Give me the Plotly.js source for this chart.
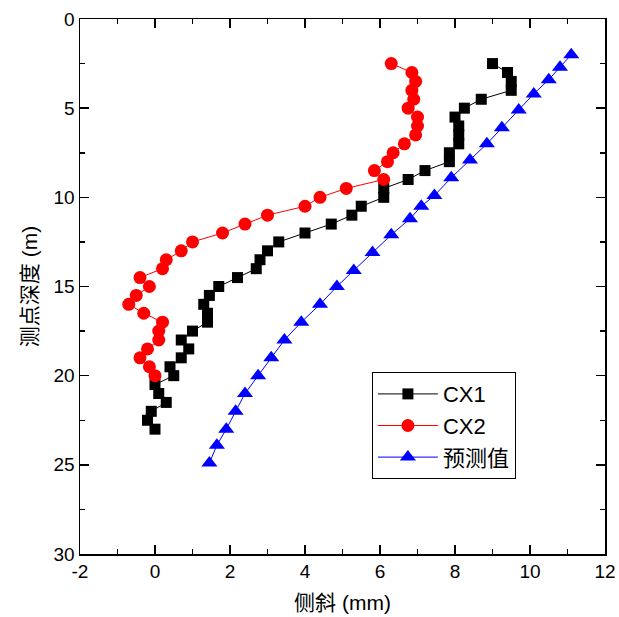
<!DOCTYPE html>
<html>
<head>
<meta charset="utf-8">
<script src="https://cdn.plot.ly/plotly-3.0.1.min.js"></script>
<style>html,body{margin:0;padding:0;background:#fff;}#chart{width:619px;height:617px;}</style>
</head>
<body>
<div id="chart"></div>
<script>
// CX1 measured
const cx1Depth = [2.5,3.0,3.5,4.0,4.5,5.0,5.5,6.0,6.5,7.0,7.5,8.0,8.5,9.0,9.5,10.0,10.5,11.0,11.5,12.0,12.5,13.0,13.5,14.0,14.5,15.0,15.5,16.0,16.5,17.0,17.5,18.0,18.5,19.0,19.5,20.0,20.5,21.0,21.5,22.0,22.5,23.0];
const cx1Disp  = [9.0,9.4,9.5,9.5,8.7,8.25,8.0,8.1,8.1,8.1,7.85,7.85,7.2,6.75,6.1,6.1,5.5,5.25,4.7,4.0,3.3,3.0,2.8,2.7,2.2,1.7,1.45,1.3,1.4,1.4,1.0,0.7,0.9,0.7,0.4,0.5,0.0,0.1,0.3,-0.1,-0.2,0.0];
// CX2 measured
const cx2Depth = [2.5,3.0,3.5,4.0,4.5,5.0,5.5,6.0,6.5,7.0,7.5,8.0,8.5,9.0,9.5,10.0,10.5,11.0,11.5,12.0,12.5,13.0,13.5,14.0,14.5,15.0,15.5,16.0,16.5,17.0,17.5,18.0,18.5,19.0,19.5,20.0];
const cx2Disp  = [6.3,6.85,6.95,6.85,6.9,6.75,7.0,7.0,6.95,6.65,6.35,6.2,5.85,6.1,5.1,4.4,4.0,3.0,2.4,1.8,1.0,0.7,0.3,0.2,-0.4,-0.15,-0.5,-0.7,-0.3,0.2,0.1,0.1,-0.2,-0.4,-0.15,0.0];
// Predicted
const predDepth = [2.0,2.7,3.4,4.2,5.1,6.1,7.0,7.9,8.9,9.9,10.5,11.2,12.1,13.1,14.1,15.0,16.0,17.0,18.0,19.0,20.0,21.0,22.0,23.0,23.9,24.9];
const predDisp  = [11.1,10.8,10.5,10.1,9.7,9.25,8.85,8.4,7.9,7.45,7.1,6.8,6.3,5.8,5.3,4.85,4.4,3.9,3.45,3.1,2.75,2.4,2.15,1.9,1.65,1.45];

const xTicks = [-2,0,2,4,6,8,10,12];
const yTicks = [0,5,10,15,20,25,30];
const names = ['CX1','CX2','预测值'];

const traces = [
  {x: cx1Disp, y: cx1Depth, name: names[0], mode:'lines+markers', type:'scatter',
   line:{color:'#000000', width:1}, marker:{symbol:'square', size:11, color:'#000000'}},
  {x: cx2Disp, y: cx2Depth, name: names[1], mode:'lines+markers', type:'scatter',
   line:{color:'#ff0000', width:1}, marker:{symbol:'circle', size:13, color:'#ff0000'}},
  {x: predDisp, y: predDepth, name: names[2], mode:'lines+markers', type:'scatter',
   line:{color:'#0000ff', width:1}, marker:{symbol:'triangle-up', size:14, color:'#0000ff'}}
];

const fontFam = '"Liberation Sans", Arial, "Noto Sans CJK SC", sans-serif';
const layout = {
  width:619, height:617,
  margin:{l:80, r:14, t:19, b:63},
  paper_bgcolor:'#ffffff', plot_bgcolor:'#ffffff',
  font:{family:fontFam, size:18, color:'#000'},
  showlegend:true,
  legend:{x:0.556, y:0.34, xanchor:'left', yanchor:'top', bordercolor:'#000', borderwidth:1,
          bgcolor:'#fff', font:{family:fontFam, size:22, color:'#000'}, tracegroupgap:0, itemwidth:60},
  xaxis:{range:[-2,12], tickvals:xTicks, ticktext:xTicks.map(String), ticks:'inside', ticklen:9, tickwidth:1.5,
         tickcolor:'#000', showline:true, linecolor:'#000', linewidth:1.5, mirror:'ticks', showgrid:false, zeroline:false,
         minor:{dtick:1, tick0:-2, ticks:'inside', ticklen:5, tickwidth:1.5, tickcolor:'#000', showgrid:false},
         tickfont:{size:19}, title:{text:'侧斜 (mm)', font:{size:21}, standoff:14}},
  yaxis:{range:[30,0], tickvals:yTicks, ticktext:yTicks.map(String), ticks:'inside', ticklen:9, tickwidth:1.5,
         tickcolor:'#000', showline:true, linecolor:'#000', linewidth:1.5, mirror:'ticks', showgrid:false, zeroline:false,
         minor:{dtick:2.5, tick0:0, ticks:'inside', ticklen:5, tickwidth:1.5, tickcolor:'#000', showgrid:false},
         tickfont:{size:19}, title:{text:'测点深度 (m)', font:{size:21}, standoff:10}}
};
Plotly.newPlot('chart', traces, layout, {displayModeBar:false, staticPlot:true});
</script>
</body>
</html>
